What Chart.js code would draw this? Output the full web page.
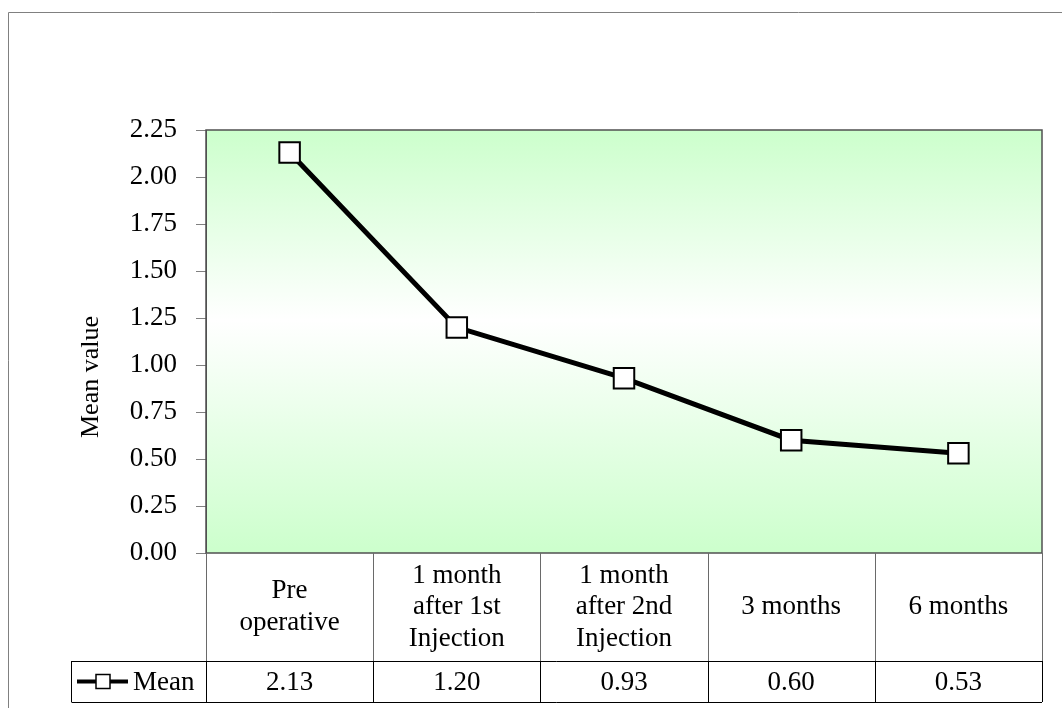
<!DOCTYPE html>
<html>
<head>
<meta charset="utf-8">
<script src="https://cdn.jsdelivr.net/npm/chart.js@4/dist/chart.umd.min.js"></script>
<style>
  body { margin: 0; background: #fff; }
  #wrap { width: 1062px; height: 708px; position: relative; }
</style>
</head>
<body>
<div id="wrap"><canvas id="myChart" width="1062" height="708"></canvas></div>
<script>
// chart data
var categories = [
  ["Pre", "operative"],
  ["1 month", "after 1st", "Injection"],
  ["1 month", "after 2nd", "Injection"],
  ["3 months"],
  ["6 months"]
];
var seriesName = "Mean";
var yTitle = "Mean value";
var meanValues = [2.13, 1.20, 0.93, 0.60, 0.53];
var yTicks = [0, 0.25, 0.5, 0.75, 1, 1.25, 1.5, 1.75, 2, 2.25];

var serif = "'Liberation Serif', 'Times New Roman', serif";
var fontSize = 27;

// frame, plot background gradient and the data table under the plot
var tablePlugin = {
  id: 'tablePlugin',
  beforeDraw: function(chart) {
    var ctx = chart.ctx;
    var a = chart.chartArea;
    ctx.save();
    // outer frame (cut off at right/bottom like the source)
    ctx.strokeStyle = '#808080';
    ctx.lineWidth = 1;
    ctx.beginPath();
    ctx.moveTo(8.5, 708);
    ctx.lineTo(8.5, 12.5);
    ctx.lineTo(1062, 12.5);
    ctx.stroke();
    // plot background
    var g = ctx.createLinearGradient(0, a.top, 0, a.bottom);
    g.addColorStop(0, '#ccffcc');
    g.addColorStop(0.45, '#ffffff');
    g.addColorStop(1, '#ccffcc');
    ctx.fillStyle = g;
    ctx.fillRect(a.left, a.top, a.right - a.left, a.bottom - a.top);

    // y axis title (Excel puts it a bit below the plot middle)
    ctx.translate(91, 377);
    ctx.rotate(-Math.PI / 2);
    ctx.fillStyle = '#000';
    ctx.font = '26px ' + serif;
    ctx.textAlign = 'center';
    ctx.textBaseline = 'middle';
    ctx.fillText(yTitle, 0, 0);
    ctx.restore();
  },
  afterDraw: function(chart) {
    var ctx = chart.ctx;
    var a = chart.chartArea;
    var x = chart.scales.x;
    var row1 = a.bottom + 108;
    var row2 = row1 + 41;
    var half = (x.getPixelForValue(1) - x.getPixelForValue(0)) / 2;
    ctx.save();
    // plot border
    ctx.strokeStyle = '#505050';
    ctx.lineWidth = 1.5;
    ctx.strokeRect(a.left, a.top, a.right - a.left, a.bottom - a.top);

    // category row grid (gray)
    ctx.strokeStyle = '#6a6a6a';
    ctx.lineWidth = 1;
    ctx.beginPath();
    for (var i = 0; i <= categories.length; i++) {
      var cx = Math.round(a.left + i * half * 2) + 0.5;
      ctx.moveTo(cx, a.bottom);
      ctx.lineTo(cx, row1);
    }
    ctx.stroke();

    // value row grid (black)
    ctx.strokeStyle = '#000';
    ctx.beginPath();
    ctx.moveTo(71.5, row1 + 0.5);
    ctx.lineTo(a.right, row1 + 0.5);
    ctx.moveTo(71.5, row2 + 0.5);
    ctx.lineTo(a.right, row2 + 0.5);
    ctx.moveTo(71.5, row1);
    ctx.lineTo(71.5, row2);
    for (var j = 0; j <= categories.length; j++) {
      var vx = Math.round(a.left + j * half * 2) + 0.5;
      ctx.moveTo(vx, row1);
      ctx.lineTo(vx, row2);
    }
    ctx.stroke();

    // texts
    ctx.fillStyle = '#000';
    ctx.font = fontSize + 'px ' + serif;
    ctx.textAlign = 'center';
    ctx.textBaseline = 'middle';
    var mid1 = (a.bottom + row1) / 2;
    var lh = 31.5;
    for (var k = 0; k < categories.length; k++) {
      var px = x.getPixelForValue(k);
      var lines = categories[k];
      var y0 = mid1 - (lines.length - 1) * lh / 2;
      for (var m = 0; m < lines.length; m++) {
        ctx.fillText(lines[m], px, y0 + m * lh);
      }
      ctx.fillText(meanValues[k].toFixed(2), px, (row1 + row2) / 2 + 1);
    }

    // legend key in the value row
    var ly = (row1 + row2) / 2;
    ctx.strokeStyle = '#000';
    ctx.lineWidth = 4;
    ctx.beginPath();
    ctx.moveTo(77, ly);
    ctx.lineTo(128, ly);
    ctx.stroke();
    ctx.fillStyle = '#fff';
    ctx.lineWidth = 1.5;
    ctx.fillRect(96, ly - 7, 14, 14);
    ctx.strokeRect(96, ly - 7, 14, 14);
    ctx.fillStyle = '#000';
    ctx.textAlign = 'left';
    ctx.fillText(seriesName, 133, ly + 1);
    ctx.restore();
  }
};

var myChart = document.getElementById('myChart');

var lineChart = new Chart(myChart, {
  type: 'line',
  data: {
    labels: categories,
    datasets: [{
      label: seriesName,
      data: meanValues,
      borderColor: '#000',
      borderWidth: 5,
      pointStyle: 'rect',
      pointRadius: 14.5,
      pointBorderWidth: 2,
      pointBackgroundColor: '#fff',
      pointBorderColor: '#000',
      tension: 0
    }]
  },
  options: {
    responsive: false,
    animation: false,
    layout: { padding: { left: 78, right: 20, top: 130, bottom: 155 } },
    plugins: {
      legend: { display: false },
      tooltip: { enabled: false }
    },
    scales: {
      x: {
        display: false,
        offset: true
      },
      y: {
        min: 0,
        max: 2.25,
        afterBuildTicks: function(scale) {
          scale.ticks = yTicks.map(function(v) { return { value: v }; });
        },
        afterFit: function(scale) { scale.width = 128; },
        ticks: {
          padding: 19,
          color: '#000',
          font: { family: serif, size: fontSize },
          callback: function(v) { return Number(v).toFixed(2); }
        },
        grid: {
          drawOnChartArea: false,
          drawTicks: true,
          tickLength: 10,
          color: '#808080'
        },
        border: { color: '#505050', width: 1 },
        title: { display: false }
      }
    }
  },
  plugins: [tablePlugin]
});
</script>
</body>
</html>
